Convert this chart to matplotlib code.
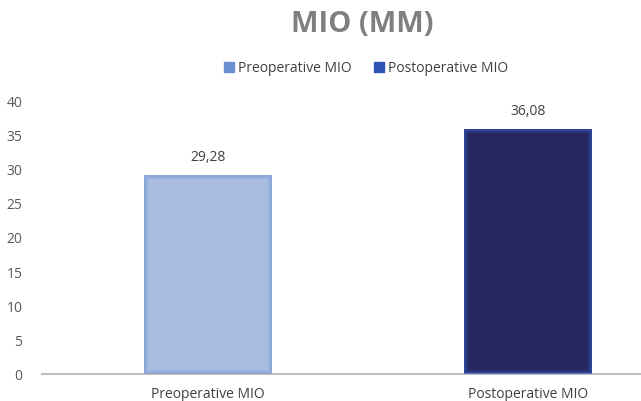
import matplotlib.pyplot as plt
from matplotlib.patches import Patch

categories = ["Preoperative MIO", "Postoperative MIO"]
values = [29.28, 36.08]
value_labels = ["29,28", "36,08"]
y_ticks = [0, 5, 10, 15, 20, 25, 30, 35, 40]

face_colors = ["#a9bde1", "#27275f"]
glow_colors = ["#7b9bd8", "#3556b8"]
legend_colors = ["#6b8fd0", "#2e54b4"]

plt.rcParams["font.family"] = ["Open Sans", "DejaVu Sans"]

W, H = 641, 401
fig = plt.figure(figsize=(W / 100, H / 100), dpi=100)
ax = fig.add_axes([42 / W, 27 / H, 599 / W, 272 / H])

x = list(range(len(categories)))
bars = ax.bar(x, values, width=0.4, color=face_colors, zorder=2)
# soft inner glow: stacked edges clipped to the bar itself
for b, gc in zip(bars, glow_colors):
    for lw in [6, 4, 2.5, 1.2]:
        edge = plt.Rectangle(b.get_xy(), b.get_width(), b.get_height(),
                             fill=False, edgecolor=gc, lw=lw, alpha=0.25,
                             zorder=3)
        ax.add_patch(edge)
        edge.set_clip_path(b)

for xi, v, lab in zip(x, values, value_labels):
    ax.annotate(lab, (xi, v), xytext=(0, 7), textcoords="offset points",
                ha="center", va="bottom", fontsize=10, color="#404040")

ax.set_xlim(-0.519, 1.353)
ax.set_ylim(0, 40)
ax.set_yticks(y_ticks)
ax.set_yticklabels([str(t) for t in y_ticks], fontsize=10, color="#595959")
ax.set_xticks(x)
ax.set_xticklabels(categories, fontsize=10, color="#404040")
ax.tick_params(axis="y", length=0, pad=14)
ax.tick_params(axis="x", length=0, pad=9)
for s in ["top", "right", "left"]:
    ax.spines[s].set_visible(False)
ax.spines["bottom"].set_color("#bfbfbf")
ax.spines["bottom"].set_linewidth(1.5)

fig.text(362 / W, 1 - 25 / H, "MIO (MM)", ha="center", va="center",
         fontsize=21, fontweight="bold", color="#7f7f7f")

handles = [Patch(color=c, label=l) for c, l in zip(legend_colors, categories)]
fig.legend(handles=handles, loc="center", bbox_to_anchor=(366 / W, 1 - 68 / H),
           ncol=2, frameon=False, fontsize=10, handlelength=0.7,
           handleheight=0.7, handletextpad=0.3, columnspacing=1.6,
           labelcolor="#404040")

fig.savefig("out.png", dpi=100)
